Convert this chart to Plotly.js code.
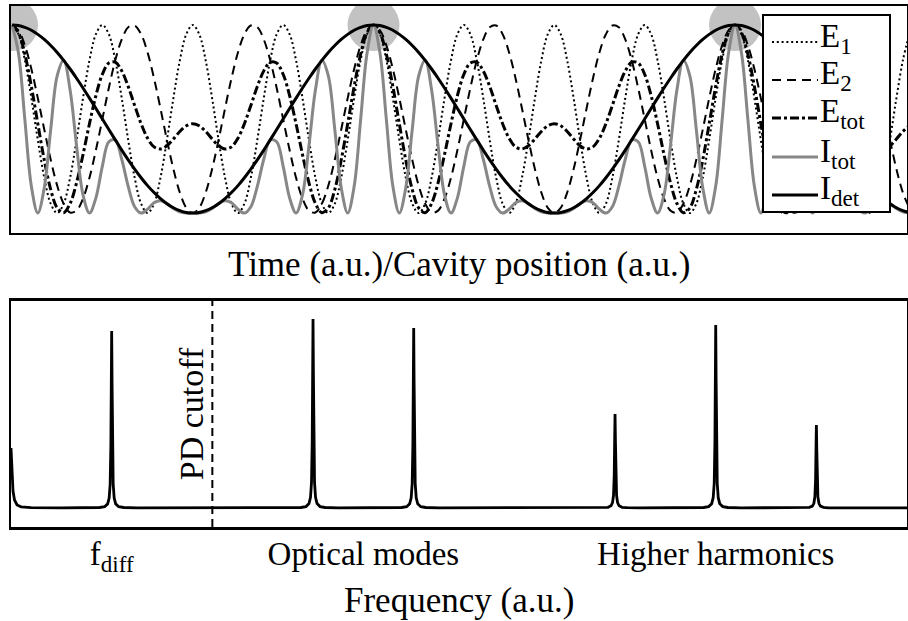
<!DOCTYPE html>
<html>
<head>
<meta charset="utf-8">
<script src="https://cdn.plot.ly/plotly-3.0.1.min.js"></script>
<style>html,body{margin:0;padding:0;background:#fff;}#chart{width:908px;height:621px;}</style>
</head>
<body>
<div id="chart"></div>
<script>
// ---- Top panel: time axis (a.u.) ----
const time = [
0,1,2,3,4,5,6,7,8,9,10,11,12,13,14,15,16,17,18,19,20,21,22,23,24,25,26,27,
28,29,30,31,32,33,34,35,36,37,38,39,40,41,42,43,44,45,46,47,48,49,50,51,52,53,54,55,
56,57,58,59,60,61,62,63,64,65,66,67,68,69,70,71,72,73,74,75,76,77,78,79,80,81,82,83,
84,85,86,87,88,89,90,91,92,93,94,95,96,97,98,99,100,101,102,103,104,105,106,107,108,109,110,111,
112,113,114,115,116,117,118,119,120,121,122,123,124,125,126,127,128,129,130,131,132,133,134,135,136,137,138,139];

const e1 = [
1,0.951,0.812,0.611,0.389,0.188,0.05,0,0.05,0.188,0.389,0.611,0.812,0.951,
1,0.951,0.812,0.611,0.389,0.188,0.05,0,0.05,0.188,0.389,0.611,0.812,0.951,
1,0.951,0.812,0.611,0.389,0.188,0.05,0,0.05,0.188,0.389,0.611,0.812,0.951,
1,0.951,0.812,0.611,0.389,0.188,0.05,0,0.05,0.188,0.389,0.611,0.812,0.951,
1,0.951,0.812,0.611,0.389,0.188,0.05,0,0.05,0.188,0.389,0.611,0.812,0.951,
1,0.951,0.812,0.611,0.389,0.188,0.05,0,0.05,0.188,0.389,0.611,0.812,0.951,
1,0.951,0.812,0.611,0.389,0.188,0.05,0,0.05,0.188,0.389,0.611,0.812,0.951,
1,0.951,0.812,0.611,0.389,0.188,0.05,0,0.05,0.188,0.389,0.611,0.812,0.951,
1,0.951,0.812,0.611,0.389,0.188,0.05,0,0.05,0.188,0.389,0.611,0.812,0.951,
1,0.951,0.812,0.611,0.389,0.188,0.05,0,0.05,0.188,0.389,0.611,0.812,0.951];

const e2 = [
1,0.972,0.891,0.766,0.611,0.444,0.283,0.146,0.05,0.003,0.013,0.077,0.188,0.335,
0.5,0.665,0.812,0.923,0.988,0.997,0.951,0.854,0.717,0.556,0.389,0.234,0.109,0.028,
0,0.028,0.109,0.234,0.389,0.556,0.717,0.854,0.951,0.997,0.988,0.923,0.812,0.665,
0.5,0.335,0.188,0.077,0.013,0.003,0.05,0.146,0.283,0.444,0.611,0.766,0.891,0.972,
1,0.972,0.891,0.766,0.611,0.444,0.283,0.146,0.05,0.003,0.013,0.077,0.188,0.335,
0.5,0.665,0.812,0.923,0.988,0.997,0.951,0.854,0.717,0.556,0.389,0.234,0.109,0.028,
0,0.028,0.109,0.234,0.389,0.556,0.717,0.854,0.951,0.997,0.988,0.923,0.812,0.665,
0.5,0.335,0.188,0.077,0.013,0.003,0.05,0.146,0.283,0.444,0.611,0.766,0.891,0.972,
1,0.972,0.891,0.766,0.611,0.444,0.283,0.146,0.05,0.003,0.013,0.077,0.188,0.335,
0.5,0.665,0.812,0.923,0.988,0.997,0.951,0.854,0.717,0.556,0.389,0.234,0.109,0.028];

const etot = [
1,0.959,0.844,0.673,0.475,0.282,0.125,0.027,0.002,0.051,0.161,0.311,0.475,0.625,
0.738,0.798,0.802,0.756,0.673,0.572,0.475,0.398,0.352,0.341,0.358,0.394,0.434,0.464,
0.475,0.464,0.434,0.394,0.358,0.341,0.352,0.398,0.475,0.572,0.673,0.756,0.802,0.798,
0.738,0.625,0.475,0.311,0.161,0.051,0.002,0.027,0.125,0.282,0.475,0.673,0.844,0.959,
1,0.959,0.844,0.673,0.475,0.282,0.125,0.027,0.002,0.051,0.161,0.311,0.475,0.625,
0.738,0.798,0.802,0.756,0.673,0.572,0.475,0.398,0.352,0.341,0.358,0.394,0.434,0.464,
0.475,0.464,0.434,0.394,0.358,0.341,0.352,0.398,0.475,0.572,0.673,0.756,0.802,0.798,
0.738,0.625,0.475,0.311,0.161,0.051,0.002,0.027,0.125,0.282,0.475,0.673,0.844,0.959,
1,0.959,0.844,0.673,0.475,0.282,0.125,0.027,0.002,0.051,0.161,0.311,0.475,0.625,
0.738,0.798,0.802,0.756,0.673,0.572,0.475,0.398,0.352,0.341,0.358,0.394,0.434,0.464];

const itot = [
1,0.851,0.494,0.142,0,0.135,0.445,0.729,0.812,0.654,0.358,0.097,0,0.081,
0.25,0.379,0.389,0.286,0.142,0.034,0,0.021,0.055,0.065,0.05,0.024,0.006,0,
0,0,0.006,0.024,0.05,0.065,0.055,0.021,0,0.034,0.142,0.286,0.389,0.379,
0.25,0.081,0,0.097,0.358,0.654,0.812,0.729,0.445,0.135,0,0.142,0.494,0.851,
1,0.851,0.494,0.142,0,0.135,0.445,0.729,0.812,0.654,0.358,0.097,0,0.081,
0.25,0.379,0.389,0.286,0.142,0.034,0,0.021,0.055,0.065,0.05,0.024,0.006,0,
0,0,0.006,0.024,0.05,0.065,0.055,0.021,0,0.034,0.142,0.286,0.389,0.379,
0.25,0.081,0,0.097,0.358,0.654,0.812,0.729,0.445,0.135,0,0.142,0.494,0.851,
1,0.851,0.494,0.142,0,0.135,0.445,0.729,0.812,0.654,0.358,0.097,0,0.081,
0.25,0.379,0.389,0.286,0.142,0.034,0,0.021,0.055,0.065,0.05,0.024,0.006,0];

const idet = [
1,0.997,0.987,0.972,0.95,0.923,0.891,0.854,0.812,0.766,0.717,0.665,0.611,0.556,
0.5,0.444,0.389,0.335,0.283,0.234,0.188,0.146,0.109,0.077,0.05,0.028,0.013,0.003,
0,0.003,0.013,0.028,0.05,0.077,0.109,0.146,0.188,0.234,0.283,0.335,0.389,0.444,
0.5,0.556,0.611,0.665,0.717,0.766,0.812,0.854,0.891,0.923,0.95,0.972,0.987,0.997,
1,0.997,0.987,0.972,0.95,0.923,0.891,0.854,0.812,0.766,0.717,0.665,0.611,0.556,
0.5,0.444,0.389,0.335,0.283,0.234,0.188,0.146,0.109,0.077,0.05,0.028,0.013,0.003,
0,0.003,0.013,0.028,0.05,0.077,0.109,0.146,0.188,0.234,0.283,0.335,0.389,0.444,
0.5,0.556,0.611,0.665,0.717,0.766,0.812,0.854,0.891,0.923,0.95,0.972,0.987,0.997,
1,0.997,0.987,0.972,0.95,0.923,0.891,0.854,0.812,0.766,0.717,0.665,0.611,0.556,
0.5,0.444,0.389,0.335,0.283,0.234,0.188,0.146,0.109,0.077,0.05,0.028,0.013,0.003];

// detection maxima (highlighted)
const peakTime = [0, 56, 112];
const peakVal = [1, 1, 1];

const seriesNames = ['E<sub>1</sub>', 'E<sub>2</sub>', 'E<sub>tot</sub>', 'I<sub>tot</sub>', 'I<sub>det</sub>'];

// ---- Bottom panel: spectrum ----
const freq = [
0,0.005,0.01,0.02,0.035,0.06,0.1,0.2,0.5,
0.75,0.88,0.93,0.96,0.975,0.985,0.992,0.996,1,1.004,1.008,1.015,1.025,1.04,1.07,1.12,1.25,
2,
2.75,2.88,2.93,2.96,2.975,2.985,2.992,2.996,3,3.004,3.008,3.015,3.025,3.04,3.07,3.12,3.25,
3.5,
3.75,3.88,3.93,3.96,3.975,3.985,3.992,3.996,4,4.004,4.008,4.015,4.025,4.04,4.07,4.12,4.25,
5,
5.75,5.88,5.93,5.96,5.975,5.985,5.992,5.996,6,6.004,6.008,6.015,6.025,6.04,6.07,6.12,6.25,
6.5,
6.75,6.88,6.93,6.96,6.975,6.985,6.992,6.996,7,7.004,7.008,7.015,7.025,7.04,7.07,7.12,7.25,
7.5,
7.75,7.88,7.93,7.96,7.975,7.985,7.992,7.996,8,8.004,8.008,8.015,8.025,8.04,8.07,8.12,8.25,
8.9];
const amplitude = [
60,45,33,17,8,3,1.2,0.3,0.1,
0.1,0.5,1.3,4.1,10,24,63,124,177,124,63,24,10,4.1,1.3,0.5,0.1,
0.1,
0.1,0.5,1.4,4.4,10.7,25.6,67,132,189,132,67,25.6,10.7,4.4,1.4,0.5,0.1,
0.1,
0.1,0.5,1.3,4.2,10.2,24.4,64,126,180,126,64,24.4,10.2,4.2,1.3,0.5,0.1,
0.1,
0.1,0.3,0.7,2.2,5.3,12.7,33,66,94,66,33,12.7,5.3,2.2,0.7,0.3,0.1,
0.1,
0.1,0.5,1.4,4.3,10.3,24.7,65,128,183,128,65,24.7,10.3,4.3,1.4,0.5,0.1,
0.1,
0.1,0.2,0.6,1.9,4.7,11.2,29,58,83,58,29,11.2,4.7,1.9,0.6,0.2,0.1,
0.1];

const cutoffFreq = 2.0;
const bandTickVals = [1, 3.5, 7];
const bandTickText = ['f<sub>diff</sub>', 'Optical modes', 'Higher harmonics'];

const FONT = "'Liberation Serif', 'Times New Roman', serif";

// line styles per series (same order as seriesNames)
const styles = [
  {color: '#000', width: 2, dash: '2px,2.8px'},
  {color: '#000', width: 2, dash: '9px,6px'},
  {color: '#000', width: 3, dash: '9px,3px,3px,3px'},
  {color: '#878787', width: 3, dash: 'solid'},
  {color: '#000', width: 3, dash: 'solid'}
];
const seriesData = [e1, e2, etot, itot, idet];

const traces = [
  {x: peakTime, y: peakVal, xaxis: 'x', yaxis: 'y', mode: 'markers', showlegend: false, hoverinfo: 'skip',
   marker: {size: 52, color: '#c2c2c2', line: {width: 0}}}
];
seriesData.forEach((d, i) => traces.push({
  x: time, y: d, xaxis: 'x', yaxis: 'y', mode: 'lines', name: seriesNames[i], showlegend: false,
  line: Object.assign({shape: 'spline', smoothing: 1}, styles[i])
}));
traces.push({x: freq, y: amplitude, xaxis: 'x2', yaxis: 'y2', mode: 'lines', showlegend: false,
  name: 'Spectrum', line: {color: '#000', width: 2.8}});

const axisBase = {showgrid: false, zeroline: false, showline: true, mirror: true,
  linecolor: '#000', linewidth: 2.5, ticks: '', showticklabels: false, fixedrange: true};

// legend box drawn in paper coordinates
const pxX = px => (px - 11) / 896;
const pxY = py => (527 - py) / 521;
const legendRows = [42, 80, 118, 157, 195];

const shapes = [
  {type: 'line', xref: 'x2', yref: 'y2 domain', x0: cutoffFreq, x1: cutoffFreq, y0: 0, y1: 1,
   line: {color: '#000', width: 2, dash: '8px,5px'}},
  {type: 'rect', xref: 'paper', yref: 'paper', x0: pxX(763), x1: pxX(890), y0: pxY(212), y1: pxY(15),
   fillcolor: '#fff', line: {color: '#000', width: 2}}
];
const annotations = [
  {text: 'Time (a.u.)/Cavity position (a.u.)', xref: 'paper', yref: 'paper', x: 0.5, y: pxY(264),
   xanchor: 'center', yanchor: 'middle', showarrow: false, font: {family: FONT, size: 35, color: '#000'}},
  {text: 'Frequency (a.u.)', xref: 'paper', yref: 'paper', x: 0.5, y: pxY(600),
   xanchor: 'center', yanchor: 'middle', showarrow: false, font: {family: FONT, size: 35, color: '#000'}},
  {text: 'PD cutoff', xref: 'x2', yref: 'y2', x: 1.80, y: 94, textangle: -90,
   xanchor: 'center', yanchor: 'middle', showarrow: false, font: {family: FONT, size: 34, color: '#000'}}
];
seriesNames.forEach((n, i) => {
  const yy = pxY(legendRows[i]);
  shapes.push({type: 'line', xref: 'paper', yref: 'paper', x0: pxX(772), x1: pxX(818), y0: yy, y1: yy,
    line: {color: styles[i].color, width: styles[i].width, dash: styles[i].dash}});
  annotations.push({text: n, xref: 'paper', yref: 'paper', x: pxX(818), y: yy, yshift: 4,
    xanchor: 'left', yanchor: 'middle', showarrow: false, font: {family: FONT, size: 33, color: '#000'}});
});

const layout = {
  width: 908, height: 621,
  margin: {l: 11, r: 1, t: 6, b: 94, pad: 0},
  paper_bgcolor: '#fff', plot_bgcolor: '#fff',
  font: {family: FONT, color: '#000', size: 28},
  showlegend: false,
  xaxis: Object.assign({}, axisBase, {domain: [0, 1], range: [-0.155, 138.64], anchor: 'y'}),
  yaxis: Object.assign({}, axisBase, {domain: [0.5643, 1], range: [-0.106, 1.101], anchor: 'x'}),
  xaxis2: Object.assign({}, axisBase, {domain: [0, 1], range: [0, 8.9], anchor: 'y2',
    showticklabels: true, tickmode: 'array', tickvals: bandTickVals, ticktext: bandTickText,
    tickfont: {family: FONT, size: 33, color: '#000'}, ticklabelstandoff: -4}),
  yaxis2: Object.assign({}, axisBase, {domain: [0, 0.4338], range: [-19, 207], anchor: 'x2'}),
  shapes: shapes,
  annotations: annotations
};

Plotly.newPlot('chart', traces, layout, {staticPlot: true, displayModeBar: false});
</script>
</body>
</html>
